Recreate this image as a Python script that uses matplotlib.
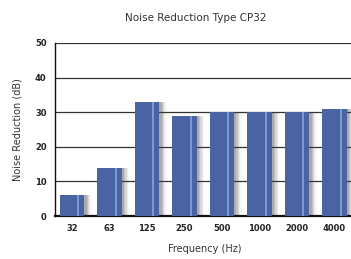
import numpy as np
import matplotlib.pyplot as plt

# Data.
freqs = ["32", "63", "125", "250", "500", "1000", "2000", "4000"]
reduction = [6, 14, 33, 29, 30, 30, 30, 31]
y_ticks = [0, 10, 20, 30, 40, 50]

bar_color = "#4a63a3"
stripe_color = "#8ea6dc"

fig = plt.figure(figsize=(3.51, 2.59), dpi=100)
ax = fig.add_axes([55 / 351, (259 - 216) / 259, 300 / 351, 173 / 259])

x = np.arange(len(freqs))
w = 0.66

# soft shadow on the right side of each bar
for k, a in enumerate([0.18, 0.14, 0.10, 0.07, 0.04]):
    ax.bar(x + 0.06 + k * 0.035, reduction, width=w, color="#444444",
           alpha=a, zorder=2, linewidth=0)
ax.bar(x, reduction, width=w, color=bar_color, zorder=3, linewidth=0)
# light highlight stripe
ax.bar(x + 0.17, reduction, width=0.06, color=stripe_color, zorder=4,
       linewidth=0, alpha=0.8)

ax.set_xlim(-0.45, 7.55)
ax.set_ylim(0, 50)
ax.set_yticks(y_ticks)
ax.set_xticks(x)
ax.set_xticklabels(freqs)
ax.tick_params(axis="both", length=0, labelsize=6, colors="#222222", pad=6)
for lab in ax.get_xticklabels() + ax.get_yticklabels():
    lab.set_fontweight("bold")

ax.grid(axis="y", color="#333333", linewidth=0.9, zorder=1)
ax.set_axisbelow(True)
for s in ["top", "right"]:
    ax.spines[s].set_visible(False)
ax.spines["left"].set_color("#111111")
ax.spines["left"].set_linewidth(1.0)
ax.spines["bottom"].set_color("#111111")
ax.spines["bottom"].set_linewidth(1.6)

ax.set_xlabel("Frequency (Hz)", fontsize=7, color="#333333", labelpad=8)
ax.set_ylabel("Noise Reduction (dB)", fontsize=7, color="#333333", labelpad=9)
fig.text(196 / 351, 1 - 18 / 259, "Noise Reduction Type CP32", ha="center",
         va="center", fontsize=7.5, color="#333333")

fig.savefig("out.png", dpi=100)
